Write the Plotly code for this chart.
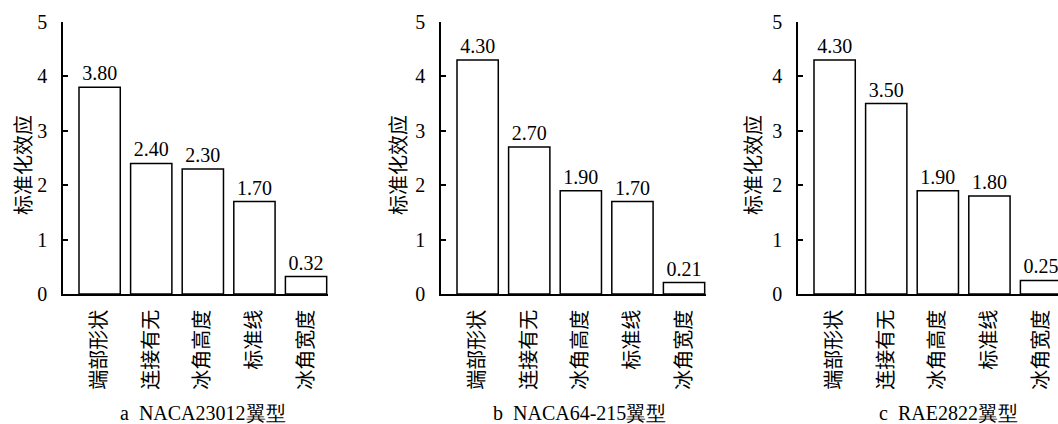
import plotly.graph_objects as go

# Factor names (x categories) and normalised effects for each airfoil
factors = ["端部形状", "连接有无", "冰角高度", "标准线", "冰角宽度"]
effect_naca23012 = [3.80, 2.40, 2.30, 1.70, 0.32]
effect_naca64215 = [4.30, 2.70, 1.90, 1.70, 0.21]
effect_rae2822 = [4.30, 3.50, 1.90, 1.80, 0.25]
panel_titles = ["a  NACA23012翼型", "b  NACA64-215翼型", "c  RAE2822翼型"]
y_title = "标准化效应"
y_ticks = [0, 1, 2, 3, 4, 5]

W, H = 1058, 424
SERIF = "Liberation Serif"
CJK = "Noto Sans CJK SC"

series = [effect_naca23012, effect_naca64215, effect_rae2822]
# horizontal extent of each panel in pixels (axis start, axis end)
panel_px = [(63, 328), (441, 706), (798, 1058)]
unit_px = 51.6  # pixels per category step
x_start = -0.71

fig = go.Figure()
positions = list(range(len(factors)))

for i, vals in enumerate(series):
    xa = "x" if i == 0 else f"x{i+1}"
    ya = "y" if i == 0 else f"y{i+1}"
    fig.add_trace(go.Bar(
        x=positions, y=vals, xaxis=xa, yaxis=ya,
        width=0.8,
        marker=dict(color="white", line=dict(color="black", width=1.5)),
        text=[f"{v:.2f}" for v in vals],
        textposition="outside", cliponaxis=False, constraintext="none",
        textfont=dict(family=SERIF, size=20, color="black"),
        showlegend=False, hoverinfo="skip",
    ))

y_dom = [(H - 294) / H, (H - 22) / H]
layout = dict(
    width=W, height=H,
    margin=dict(l=0, r=0, t=0, b=0, autoexpand=False),
    paper_bgcolor="white", plot_bgcolor="white",
    font=dict(family=SERIF, color="black"),
)
annotations = []
for i, (p0, p1) in enumerate(panel_px):
    sx = "xaxis" if i == 0 else f"xaxis{i+1}"
    sy = "yaxis" if i == 0 else f"yaxis{i+1}"
    ya = "y" if i == 0 else f"y{i+1}"
    xa = "x" if i == 0 else f"x{i+1}"
    x_end = x_start + (p1 - p0) / unit_px
    layout[sx] = dict(
        domain=[p0 / W, p1 / W], anchor=ya,
        range=[x_start, x_end], automargin=False,
        tickmode="array", tickvals=positions, ticktext=factors,
        tickangle=-90, ticks="", showgrid=False, zeroline=False,
        showline=True, linecolor="black", linewidth=1.5,
        ticklabelstandoff=6,
        tickfont=dict(family=CJK, size=20, color="black"),
    )
    layout[sy] = dict(
        domain=y_dom, anchor=xa, range=[0, 5], automargin=False,
        tickmode="array", tickvals=y_ticks,
        ticks="inside", ticklen=5, tickwidth=1.5, tickcolor="black",
        showgrid=False, zeroline=False,
        showline=True, linecolor="black", linewidth=1.5,
        ticklabelstandoff=10,
        tickfont=dict(family=SERIF, size=20, color="black"),
    )

# y-axis titles and panel captions placed in paper pixels
ytitle_x = [22, 397, 752]
caption_x = [203, 579, 948]
for i in range(3):
    annotations.append(dict(
        text=y_title, textangle=-90, xref="paper", yref="paper",
        x=ytitle_x[i] / W, y=(H - 165) / H, showarrow=False,
        xanchor="center", yanchor="middle",
        font=dict(family=CJK, size=20, color="black"),
    ))
    annotations.append(dict(
        text=panel_titles[i], xref="paper", yref="paper",
        x=caption_x[i] / W, y=(H - 413) / H, showarrow=False,
        xanchor="center", yanchor="middle",
        font=dict(family=SERIF, size=20, color="black"),
    ))
layout["annotations"] = annotations
fig.update_layout(**layout)

fig.write_html("out.html")
